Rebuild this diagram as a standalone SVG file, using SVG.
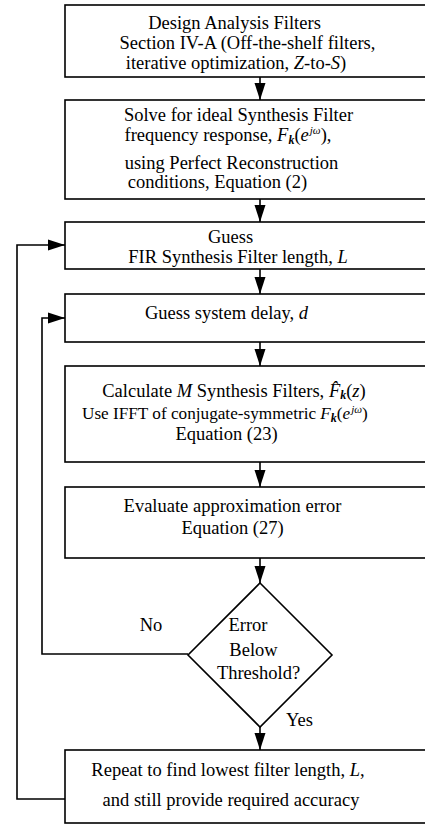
<svg xmlns="http://www.w3.org/2000/svg" width="425" height="827" viewBox="0 0 425 827">
  <defs>
    <marker id="arrow" markerUnits="userSpaceOnUse" markerWidth="18" markerHeight="12" viewBox="0 0 18 12" refX="17" refY="6" orient="auto">
      <path d="M0,0.5 L17,6 L0,11.5 Z" fill="#000"/>
    </marker>
    <style>
      .box { fill: #fff; stroke: #000; stroke-width: 1.6; }
      .wire { fill: none; stroke: #000; stroke-width: 1.6; }
      .lbl { font-family: "Liberation Serif", "Times New Roman", serif; font-size: 18.5px; fill: #000; text-anchor: middle; }
      .it { font-style: italic; }
      .sub { font-style: italic; font-weight: bold; font-size: 12px; }
      .sup { font-style: italic; font-size: 11px; }
    </style>
  </defs>

  <!-- connectors -->
  <g id="connectors">
    <line class="wire" x1="260" y1="77" x2="260" y2="100" marker-end="url(#arrow)"/>
    <line class="wire" x1="260" y1="199" x2="260" y2="222" marker-end="url(#arrow)"/>
    <line class="wire" x1="260" y1="269" x2="260" y2="294" marker-end="url(#arrow)"/>
    <line class="wire" x1="260" y1="342" x2="260" y2="366" marker-end="url(#arrow)"/>
    <line class="wire" x1="260" y1="462" x2="260" y2="487" marker-end="url(#arrow)"/>
    <line class="wire" x1="260" y1="558" x2="260" y2="583" marker-end="url(#arrow)"/>
    <line class="wire" x1="260" y1="727" x2="260" y2="750" marker-end="url(#arrow)"/>
    <!-- "No" branch back to the delay guess -->
    <polyline class="wire" points="188,654 42,654 42,318 65,318" marker-end="url(#arrow)"/>
    <!-- repeat loop back to the length guess -->
    <polyline class="wire" points="65,799 17,799 17,245 65,245" marker-end="url(#arrow)"/>
  </g>

  <g id="design-analysis">
    <rect class="box" x="65" y="5" width="370" height="72"/>
    <text class="lbl" x="234.5" y="29">Design Analysis Filters</text>
    <text class="lbl" x="247.5" y="49">Section IV-A (Off-the-shelf filters,</text>
    <text class="lbl" x="236" y="69">iterative optimization, <tspan class="it">Z</tspan>-to-<tspan class="it">S</tspan>)</text>
  </g>

  <g id="ideal-response">
    <rect class="box" x="65" y="100" width="370" height="99"/>
    <text class="lbl" x="238.5" y="121">Solve for ideal Synthesis Filter</text>
    <text class="lbl" x="228" y="141">frequency response, <tspan class="it">F</tspan><tspan class="sub" dy="3">k</tspan><tspan dy="-3">(</tspan><tspan class="it">e</tspan><tspan class="sup" dx="1" dy="-7">jω</tspan><tspan dy="7">),</tspan></text>
    <text class="lbl" x="231.5" y="169">using Perfect Reconstruction</text>
    <text class="lbl" x="217.5" y="188">conditions, Equation (2)</text>
  </g>

  <g id="guess-length">
    <rect class="box" x="65" y="222" width="370" height="47"/>
    <text class="lbl" x="230.5" y="243">Guess</text>
    <text class="lbl" x="238" y="263">FIR Synthesis Filter length, <tspan class="it">L</tspan></text>
  </g>

  <g id="guess-delay">
    <rect class="box" x="65" y="294" width="370" height="48"/>
    <text class="lbl" x="226.5" y="319">Guess system delay, <tspan class="it">d</tspan></text>
  </g>

  <g id="calculate-filters">
    <rect class="box" x="65" y="366" width="370" height="96"/>
    <text class="lbl" x="234" y="397">Calculate <tspan class="it">M</tspan> Synthesis Filters, <tspan class="it">F̂</tspan><tspan class="sub" dy="2">k</tspan><tspan dy="-2">(</tspan><tspan class="it">z</tspan>)</text>
    <text class="lbl" x="82" y="419" style="text-anchor:start;font-size:17.2px">Use IFFT of conjugate-symmetric <tspan class="it">F</tspan><tspan class="sub" dy="3">k</tspan><tspan dy="-3">(</tspan><tspan class="it">e</tspan><tspan class="sup" dx="1" dy="-6">jω</tspan><tspan dy="6">)</tspan></text>
    <text class="lbl" x="226.5" y="440">Equation (23)</text>
  </g>

  <g id="evaluate-error">
    <rect class="box" x="65" y="487" width="370" height="71"/>
    <text class="lbl" x="232.5" y="512">Evaluate approximation error</text>
    <text class="lbl" x="232.5" y="534">Equation (27)</text>
  </g>

  <g id="threshold-check">
    <polygon class="box" points="260,583 332,655 260,727 188,655"/>
    <text class="lbl" x="248" y="631">Error</text>
    <text class="lbl" x="253.5" y="656">Below</text>
    <text class="lbl" x="258.5" y="679">Threshold?</text>
    <text class="lbl" x="151" y="631">No</text>
    <text class="lbl" x="299.5" y="726">Yes</text>
  </g>

  <g id="repeat">
    <rect class="box" x="65" y="750" width="370" height="73"/>
    <text class="lbl" x="228" y="776">Repeat to find lowest filter length, <tspan class="it">L</tspan>,</text>
    <text class="lbl" x="231" y="806">and still provide required accuracy</text>
  </g>
</svg>
